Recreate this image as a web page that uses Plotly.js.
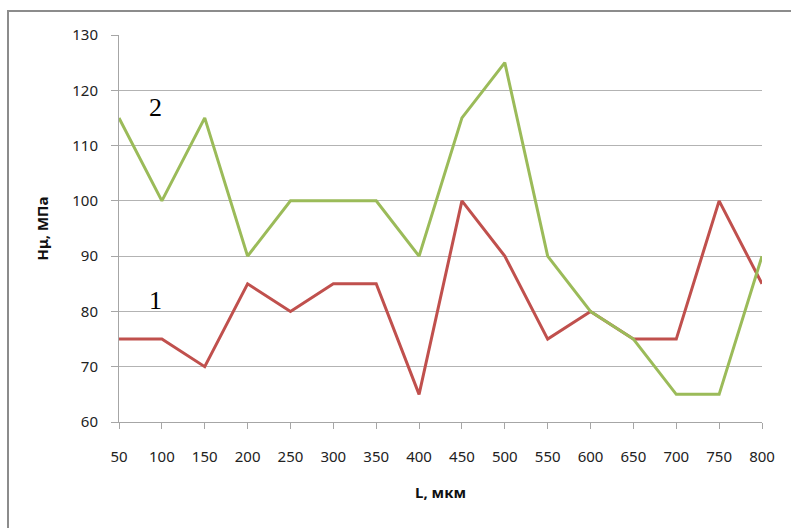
<!DOCTYPE html>
<html><head><meta charset="utf-8">
<script src="https://cdn.plot.ly/plotly-3.0.1.min.js"></script>
<style>html,body{margin:0;padding:0;background:#fff}</style>
</head><body>
<div id="chart" style="width:791px;height:528px"></div>
<script>
const xValues = [50,100,150,200,250,300,350,400,450,500,550,600,650,700,750,800];
const series1 = [75,75,70,85,80,85,85,65,100,90,75,80,75,75,100,85];
const series2 = [115,100,115,90,100,100,100,90,115,125,90,80,75,65,65,90];
const yTicks = [60,70,80,90,100,110,120,130];

const W = 791, H = 528;
const m = {l:119, r:29, t:35, b:106};
const pw = W - m.l - m.r, ph = H - m.t - m.b;
const px = v => (v - m.l) / pw;
const py = v => 1 - (v - m.t) / ph;

const traces = [
  {x: xValues, y: series1, type:'scatter', mode:'lines', line:{color:'#C0504D', width:3}, hoverinfo:'skip'},
  {x: xValues, y: series2, type:'scatter', mode:'lines', line:{color:'#9BBB59', width:3}, hoverinfo:'skip'}
];
const layout = {
  width: W, height: H, margin: m, showlegend:false,
  paper_bgcolor:'#fff', plot_bgcolor:'#fff',
  font:{family:'"Noto Sans", "Open Sans", sans-serif', size:15, color:'#222'},
  xaxis:{range:[50,800], tickvals:xValues, ticktext:xValues.map(String),
    showgrid:false, showline:true, linecolor:'#a6a6a6', linewidth:1,
    ticks:'outside', ticklen:6, tickcolor:'#a6a6a6', ticklabelstandoff:15, zeroline:false,
    title:{text:'L, мкм', font:{size:15, family:'"Noto Sans", sans-serif', color:'#111', weight:'bold'}, standoff:22}},
  yaxis:{range:[60,130], tickvals:yTicks, showgrid:true, gridcolor:'#b3b3b3', gridwidth:1,
    showline:true, linecolor:'#a6a6a6', linewidth:1, zeroline:false,
    ticks:'outside', ticklen:7, tickcolor:'#a6a6a6', ticklabelstandoff:10,
    title:{text:'Hμ, МПа', font:{size:15, family:'"Noto Sans", sans-serif', color:'#111', weight:'bold'}, standoff:20}},
  shapes:[{type:'rect', xref:'paper', yref:'paper', x0:px(8), x1:px(800), y0:py(11), y1:py(540),
    line:{color:'#8c8c8c', width:2}, fillcolor:'rgba(0,0,0,0)', layer:'below'}],
  annotations:[
    {xref:'paper', yref:'paper', x:px(155), y:py(108), xanchor:'center', yanchor:'middle', text:'2', showarrow:false,
      font:{family:'"Liberation Serif", "DejaVu Serif", serif', size:26, color:'#000'}},
    {xref:'paper', yref:'paper', x:px(155), y:py(300), xanchor:'center', yanchor:'middle', text:'1', showarrow:false,
      font:{family:'"Liberation Serif", "DejaVu Serif", serif', size:26, color:'#000'}}
  ]
};
Plotly.newPlot('chart', traces, layout, {staticPlot:true, displayModeBar:false});
</script>
</body></html>
